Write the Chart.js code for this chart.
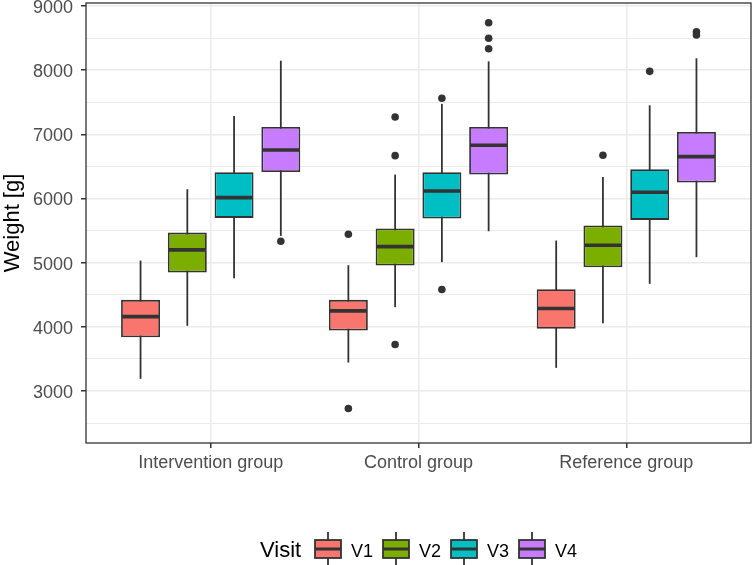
<!DOCTYPE html>
<html>
<head>
<meta charset="utf-8">
<script src="https://cdn.jsdelivr.net/npm/chart.js@4.4.1/dist/chart.umd.min.js"></script>
<style>
    html, body { margin: 0; padding: 0; background: #ffffff; }
</style>
</head>
<body>
<canvas id="chart" width="752" height="565"></canvas>
<script>
const GROUPS = ["Intervention group", "Control group", "Reference group"];
const VISITS = ["V1", "V2", "V3", "V4"];
const COLORS = ["#F8766D", "#7CAE00", "#00BFC4", "#C77CFF"];

// Box stats per group: [lower whisker, Q1, median, Q3, upper whisker]
const V1_STATS = [[3190, 3839, 4160, 4421, 5033], [3444, 3942, 4249, 4421, 4961], [3361, 3969, 4285, 4587, 5345]];
const V2_STATS = [[4016, 4846, 5199, 5469, 6145], [4307, 4955, 5251, 5532, 6373], [4057, 4929, 5272, 5579, 6336]];
const V3_STATS = [[4758, 5698, 6014, 6409, 7287], [5008, 5687, 6118, 6409, 7474], [4670, 5667, 6098, 6456, 7453]];
const V4_STATS = [[5417, 6414, 6757, 7115, 8148], [5490, 6373, 6830, 7115, 8138], [5086, 6248, 6653, 7037, 8185]];

// Outliers per group
const V1_OUTLIERS = [[], [5443, 2727], []];
const V2_OUTLIERS = [[], [7271, 6668, 3724], [6674]];
const V3_OUTLIERS = [[], [7562, 4581], [7982]];
const V4_OUTLIERS = [[5335], [8740, 8497, 8335], [8600, 8548]];

const Y_TICKS = [3000, 4000, 5000, 6000, 7000, 8000, 9000];
const Y_MIN = 2190;
const Y_MAX = 9047;

const STATS = [V1_STATS, V2_STATS, V3_STATS, V4_STATS];
const OUTLIERS = [V1_OUTLIERS, V2_OUTLIERS, V3_OUTLIERS, V4_OUTLIERS];

const INK = "#333333";
const TICK_TEXT = "#4d4d4d";
const GRID = "#ebebeb";
const FONT = "'Liberation Sans', Arial, sans-serif";

// Whiskers, medians, outliers, panel border and the boxplot legend.
const boxplotParts = {
    id: 'boxplotParts',
    beforeDatasetsDraw(chart) {
        const ctx = chart.ctx;
        const y = chart.scales.y;
        ctx.save();
        ctx.strokeStyle = INK;
        ctx.lineWidth = 1.8;
        chart.data.datasets.forEach((ds, di) => {
            chart.getDatasetMeta(di).data.forEach((bar, gi) => {
                const s = ds.stats[gi];
                ctx.beginPath();
                ctx.moveTo(bar.x, y.getPixelForValue(s[0]));
                ctx.lineTo(bar.x, y.getPixelForValue(s[4]));
                ctx.stroke();
            });
        });
        ctx.restore();
    },
    afterDatasetsDraw(chart) {
        const ctx = chart.ctx;
        const y = chart.scales.y;
        ctx.save();
        chart.data.datasets.forEach((ds, di) => {
            chart.getDatasetMeta(di).data.forEach((bar, gi) => {
                const s = ds.stats[gi];
                const half = bar.width / 2;
                const my = y.getPixelForValue(s[2]);
                ctx.strokeStyle = INK;
                ctx.lineWidth = 3.6;
                ctx.beginPath();
                ctx.moveTo(bar.x - half + 1, my);
                ctx.lineTo(bar.x + half - 1, my);
                ctx.stroke();
                ctx.fillStyle = INK;
                ds.outliers[gi].forEach(v => {
                    ctx.beginPath();
                    ctx.arc(bar.x, y.getPixelForValue(v), 3.8, 0, Math.PI * 2);
                    ctx.fill();
                });
            });
        });
        ctx.restore();
    },
    afterDraw(chart) {
        const ctx = chart.ctx;
        const a = chart.chartArea;
        ctx.save();
        ctx.strokeStyle = INK;
        ctx.lineWidth = 1.3;
        ctx.strokeRect(a.left, a.top, a.right - a.left, a.bottom - a.top);

        // legend
        ctx.fillStyle = "#000000";
        ctx.font = `22px ${FONT}`;
        ctx.textBaseline = 'alphabetic';
        ctx.textAlign = 'left';
        ctx.fillText("Visit", 260, 557);
        VISITS.forEach((v, i) => {
            const kx = 315 + i * 68;
            ctx.strokeStyle = INK;
            ctx.lineWidth = 1.8;
            ctx.beginPath();
            ctx.moveTo(kx + 13, 532);
            ctx.lineTo(kx + 13, 566);
            ctx.stroke();
            ctx.fillStyle = COLORS[i];
            ctx.fillRect(kx, 540, 26, 18);
            ctx.lineWidth = 1.8;
            ctx.strokeRect(kx, 540, 26, 18);
            ctx.lineWidth = 3;
            ctx.beginPath();
            ctx.moveTo(kx, 549);
            ctx.lineTo(kx + 26, 549);
            ctx.stroke();
            ctx.fillStyle = "#000000";
            ctx.font = `18px ${FONT}`;
            ctx.fillText(v, kx + 36, 557);
        });
        ctx.restore();
    }
};

new Chart(document.getElementById("chart"), {
    type: 'bar',
    data: {
        datasets: VISITS.map((v, i) => ({
            label: v,
            data: GROUPS.map((g, gi) => ({ x: gi + 1, y: [STATS[i][gi][1], STATS[i][gi][3]] })),
            stats: STATS[i],
            outliers: OUTLIERS[i],
            backgroundColor: COLORS[i],
            borderColor: INK,
            borderWidth: 1.8,
            borderSkipped: false,
            categoryPercentage: 0.9,
            barPercentage: 0.75 / 0.9,
        })),
    },
    options: {
        responsive: false,
        animation: false,
        devicePixelRatio: 1,
        layout: {
            padding: { top: 3, right: 1, bottom: 82, left: 0 },
        },
        plugins: {
            legend: { display: false },
            tooltip: { enabled: false },
        },
        scales: {
            x: {
                type: 'linear',
                min: 0.4,
                max: 3.6,
                offset: false,
                afterBuildTicks: scale => {
                    scale.ticks = GROUPS.map((g, i) => ({ value: i + 1 }));
                },
                afterFit: scale => {
                    scale.height = 40;
                    scale.paddingLeft = 0;
                    scale.paddingRight = 0;
                },
                ticks: {
                    autoSkip: false,
                    maxRotation: 0,
                    padding: 4,
                    color: TICK_TEXT,
                    font: { family: FONT, size: 18 },
                    callback: v => GROUPS[v - 1] || '',
                },
                grid: {
                    offset: false,
                    color: GRID,
                    lineWidth: 1.5,
                    tickColor: INK,
                    tickLength: 5,
                },
                border: { display: false },
            },
            y: {
                min: Y_MIN,
                max: Y_MAX,
                afterBuildTicks: scale => {
                    const ticks = [];
                    Y_TICKS.forEach((t, i) => {
                        ticks.push({ value: t });
                        if (i < Y_TICKS.length - 1) ticks.push({ value: (t + Y_TICKS[i + 1]) / 2 });
                    });
                    ticks.unshift({ value: Y_TICKS[0] - 500 });
                    scale.ticks = ticks;
                },
                afterFit: scale => {
                    scale.width = 86;
                    scale.paddingTop = 0;
                    scale.paddingBottom = 0;
                },
                ticks: {
                    autoSkip: false,
                    padding: 8,
                    labelOffset: 2,
                    color: TICK_TEXT,
                    font: { family: FONT, size: 18 },
                    callback: v => Y_TICKS.includes(v) ? String(v) : '',
                },
                grid: {
                    color: GRID,
                    lineWidth: c => Y_TICKS.includes(c.tick.value) ? 1.5 : 1,
                    tickColor: c => Y_TICKS.includes(c.tick.value) ? INK : 'rgba(0,0,0,0)',
                    tickLength: 5,
                },
                border: { display: false },
                title: {
                    display: true,
                    text: "Weight [g]",
                    color: "#000000",
                    font: { family: FONT, size: 22 },
                    padding: { top: 0, bottom: 0 },
                },
            },
        },
    },
    plugins: [boxplotParts],
});
</script>
</body>
</html>
